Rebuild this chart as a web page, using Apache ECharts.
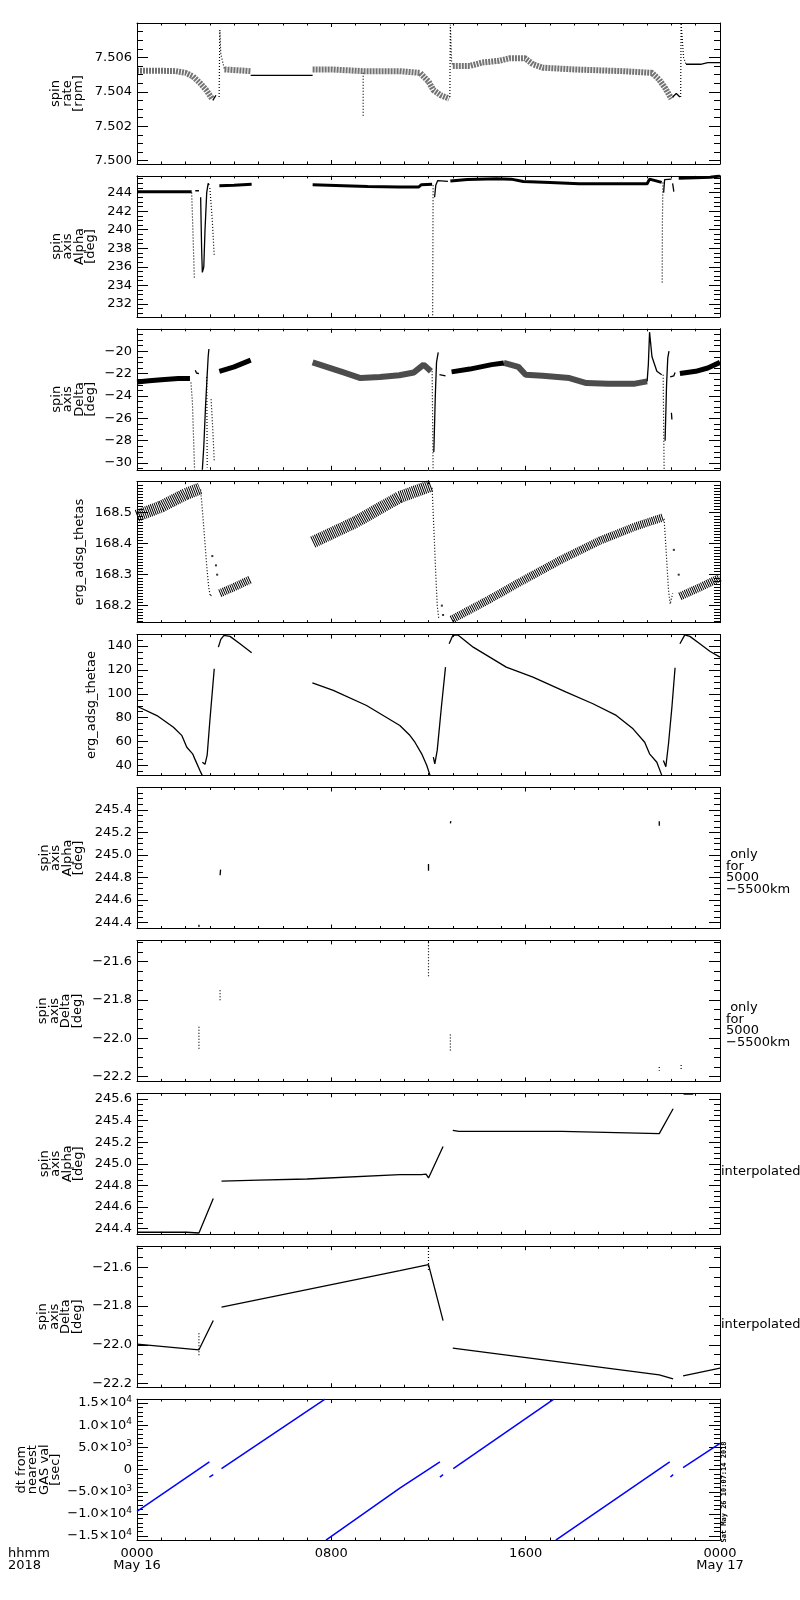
<!DOCTYPE html>
<html><head><meta charset="utf-8">
<script src="https://cdn.jsdelivr.net/npm/echarts@6/dist/echarts.min.js"></script>
<style>html,body{margin:0;padding:0;background:#fff}#c{width:800px;height:1600px}</style>
</head><body><div id="c"></div>
<script>
// ---------- axis data ----------
const hourTicks = [0, 8, 16, 24];
const hourLabels = ['0000\nMay 16', '0800', '1600', '0000\nMay 17'];

const panelTitles = ['spin\nrate\n[rpm]', 'spin\naxis\nAlpha\n[deg]', 'spin\naxis\nDelta\n[deg]', 'erg_adsg_thetas', 'erg_adsg_thetae',
  'spin\naxis\nAlpha\n[deg]', 'spin\naxis\nDelta\n[deg]', 'spin\naxis\nAlpha\n[deg]', 'spin\naxis\nDelta\n[deg]', 'dt from\nnearest\nGAS val\n[sec]'];
const panelNotes = ['', '', '', '', '', ' only\nfor\n5000\n\u22125500km', ' only\nfor\n5000\n\u22125500km', 'interpolated', 'interpolated', ''];

const yMin = [7.4998, 230.6, -30.6, 168.145, 31.6, 244.346, -22.225, 244.348, -22.219, -15900];
const yMax = [7.508, 245.8, -18, 168.6, 149.5, 245.6, -21.49, 245.653, -21.491, 15900];
const yMajor = [
  [7.500, 7.502, 7.504, 7.506],
  [232, 234, 236, 238, 240, 242, 244],
  [-30, -28, -26, -24, -22, -20],
  [168.2, 168.3, 168.4, 168.5],
  [40, 60, 80, 100, 120, 140],
  [244.4, 244.6, 244.8, 245.0, 245.2, 245.4],
  [-22.2, -22.0, -21.8, -21.6],
  [244.4, 244.6, 244.8, 245.0, 245.2, 245.4, 245.6],
  [-22.2, -22.0, -21.8, -21.6],
  [-15000, -10000, -5000, 0, 5000, 10000, 15000]
];
const yMajorLabels = [
  ['7.500', '7.502', '7.504', '7.506'],
  ['232', '234', '236', '238', '240', '242', '244'],
  ['\u221230', '\u221228', '\u221226', '\u221224', '\u221222', '\u221220'],
  ['168.2', '168.3', '168.4', '168.5'],
  ['40', '60', '80', '100', '120', '140'],
  ['244.4', '244.6', '244.8', '245.0', '245.2', '245.4'],
  ['\u221222.2', '\u221222.0', '\u221221.8', '\u221221.6'],
  ['244.4', '244.6', '244.8', '245.0', '245.2', '245.4', '245.6'],
  ['\u221222.2', '\u221222.0', '\u221221.8', '\u221221.6'],
  ['\u22121.5\u00d710{s|4}', '\u22121.0\u00d710{s|4}', '\u22125.0\u00d710{s|3}', '0', '5.0\u00d710{s|3}', '1.0\u00d710{s|4}', '1.5\u00d710{s|4}']
];
const yMinorStep = [0.0005, 0.5, 0.5, 0.01, 5, 0.05, 0.05, 0.05, 0.05, 1000];

// ---------- series data: [hour, value] ----------
// panel 1: spin rate [rpm]
const rateBand = [
  [[0, 7.50522], [1.0, 7.50522], [1.6, 7.5052], [2.0, 7.5051], [2.3, 7.5049], [2.6, 7.5045], [2.85, 7.5041], [3.09, 7.5036]],
  [[3.6, 7.5053], [4.68, 7.5052]],
  [[7.23, 7.5053], [8.0, 7.5053], [9.3, 7.5052], [10.8, 7.5052], [11.65, 7.5051], [12.0, 7.5046], [12.2, 7.5041], [12.5, 7.5038], [12.85, 7.5036]],
  [[13.0, 7.5055], [13.7, 7.5055], [14.2, 7.5057], [14.9, 7.5058], [15.35, 7.50595], [15.97, 7.50595], [16.3, 7.5056], [16.7, 7.5054], [18.0, 7.5053], [20.0, 7.5052], [21.2, 7.5051], [21.5, 7.5047], [21.75, 7.5042], [22.0, 7.5036]]
];
const rateLine = [
  [[3.12, 7.5035], [3.25, 7.5038]],
  [[4.68, 7.50495], [7.23, 7.50495]],
  [[22.05, 7.5037], [22.2, 7.5039], [22.35, 7.5037]],
  [[22.6, 7.5056], [23.2, 7.5056], [23.5, 7.5057], [24, 7.5057]]
];
const rateDots = [
  [[3.38, 7.5037], [3.41, 7.5076], [3.45, 7.5062], [3.55, 7.5056], [3.6, 7.5053]],
  [[9.31, 7.5051], [9.31, 7.5026]],
  [[12.88, 7.5037], [12.9, 7.5079], [12.95, 7.5058], [13.0, 7.5055]],
  [[22.38, 7.5037], [22.4, 7.508], [22.5, 7.506], [22.6, 7.5056]]
];
// panel 2: spin axis Alpha [deg]
const alphaBand = [
  [[0, 244.1], [1.0, 244.1], [2.25, 244.1]],
  [[3.39, 244.75], [4.0, 244.8], [4.72, 244.9]],
  [[7.23, 244.85], [8.5, 244.75], [9.5, 244.65], [10.8, 244.6], [11.6, 244.6], [11.7, 244.85], [12.15, 244.9]],
  [[12.9, 245.25], [13.6, 245.4], [14.8, 245.5], [15.4, 245.45], [15.9, 245.2], [17.0, 245.1], [18.2, 244.95], [21.0, 244.95], [21.1, 245.45], [21.6, 245.1]],
  [[22.3, 245.55], [23.0, 245.6], [23.6, 245.65], [24, 245.8]]
];
const alphaLine = [
  [[2.4, 244.2], [2.55, 244.2]],
  [[2.62, 243.5], [2.66, 238], [2.69, 235.4], [2.75, 236], [2.8, 240], [2.87, 244], [2.93, 245.0], [2.97, 244.8]],
  [[12.25, 243.5], [12.3, 244.8], [12.38, 245.3], [12.45, 245.2], [12.8, 245.2]],
  [[21.68, 244], [21.72, 245.4], [22.0, 245.45]],
  [[22.05, 245.0], [22.1, 244.1]]
];
const alphaDots = [
  [[2.25, 244.0], [2.3, 240.0], [2.36, 234.8]],
  [[3.0, 244.5], [3.1, 241], [3.18, 237.1]],
  [[12.19, 244.8], [12.17, 230.6]],
  [[21.65, 245.1], [21.63, 241], [21.62, 234.2]]
];
// panel 3: spin axis Delta [deg]
const deltaBand = [
  [[0, -22.75], [0.5, -22.65], [1.0, -22.55], [1.7, -22.45], [2.18, -22.45]],
  [[3.39, -21.8], [4.0, -21.4], [4.68, -20.8]],
  [[12.95, -21.85], [13.7, -21.6], [14.6, -21.2], [15.1, -21.05]],
  [[22.35, -22.0], [23.0, -21.8], [23.5, -21.5], [24, -21.0]]
];
const deltaNoisy = [
  [[7.23, -21.0], [7.8, -21.4], [8.5, -21.9], [9.2, -22.4], [10.0, -22.3], [10.8, -22.15], [11.4, -21.9], [11.8, -21.2], [12.1, -21.8]],
  [[15.1, -21.05], [15.7, -21.4], [16.0, -22.1], [16.7, -22.2], [17.8, -22.4], [18.5, -22.85], [19.4, -22.9], [20.5, -22.9], [21.0, -22.7]]
];
const deltaLine = [
  [[2.4, -21.7], [2.45, -21.95], [2.55, -22.0]],
  [[2.69, -30.6], [2.75, -28.5], [2.82, -25], [2.88, -22.5], [2.93, -20.5], [2.96, -19.8]],
  [[12.22, -29], [12.28, -24], [12.33, -21], [12.4, -20.1]],
  [[12.45, -22.1], [12.7, -22.2]],
  [[21.0, -22.7], [21.05, -21.2], [21.1, -18.3], [21.2, -20.5], [21.4, -21.8], [21.6, -22.1]],
  [[21.74, -28], [21.8, -23], [21.85, -20.6], [21.9, -20.0]],
  [[21.95, -22.3], [22.1, -22.2], [22.15, -21.9]],
  [[22.0, -25.5], [22.02, -26.1]]
];
const deltaDots = [
  [[2.22, -22.8], [2.28, -24.5], [2.37, -30.6]],
  [[2.87, -22.3], [2.88, -26], [2.89, -30.4]],
  [[3.05, -24.3], [3.12, -27], [3.18, -29.8]],
  [[12.15, -21.8], [12.19, -30.6]],
  [[21.66, -22.1], [21.7, -30.6]]
];
// panel 4: erg_adsg_thetas
const thetasBandWide = [
  [[0, 168.49], [1.0, 168.52], [2.0, 168.56], [2.59, 168.578]],
  [[7.24, 168.405], [9.0, 168.47], [10.8, 168.55], [12.13, 168.588]]
];
const thetasBand = [
  [[3.41, 168.24], [4.0, 168.26], [4.68, 168.285]],
  [[12.95, 168.155], [14.5, 168.22], [15.97, 168.285], [17.5, 168.35], [19.06, 168.41], [20.5, 168.455], [21.66, 168.485]],
  [[22.35, 168.23], [23.2, 168.26], [24, 168.29]]
];
const thetasLine = [
  [[2.62, 168.575], [2.7, 168.5], [2.8, 168.4], [2.88, 168.32], [2.95, 168.26], [3.02, 168.23], [3.1, 168.24]],
  [[12.15, 168.58], [12.22, 168.45], [12.3, 168.3], [12.36, 168.2], [12.42, 168.16]],
  [[21.7, 168.48], [21.78, 168.38], [21.88, 168.25], [21.95, 168.205], [22.05, 168.24]]
];
const thetasDots = [[3.1, 168.36], [3.25, 168.33], [3.3, 168.3], [12.55, 168.2], [12.6, 168.17], [22.1, 168.38], [22.3, 168.3]];
// panel 5: erg_adsg_thetae
const thetaeLine = [
  [[0, 89.6], [0.82, 81.8], [1.5, 72], [1.85, 65], [2.05, 55.3], [2.29, 49.8], [2.33, 51], [2.37, 46], [2.59, 35.8], [2.69, 31.6]],
  [[2.69, 42.8], [2.8, 41], [2.89, 49], [3.0, 77.7], [3.18, 120.9]],
  [[3.35, 139], [3.45, 145.5], [3.58, 148.8], [3.83, 148], [4.24, 141.8], [4.72, 134.3]],
  [[7.22, 109.2], [8.08, 102.8], [9.45, 90.2], [10.82, 73.5], [11.24, 65.1], [11.44, 59.5], [11.72, 49.8], [11.93, 40], [12.06, 32]],
  [[12.2, 47], [12.26, 41.4], [12.36, 52.9], [12.53, 88.8], [12.7, 122.3]],
  [[12.85, 141.8], [13.0, 148.8], [13.2, 149.3], [13.84, 139], [14.52, 130.7], [15.2, 122.3], [16.3, 114], [17.67, 101.4], [18.77, 91.7], [19.73, 81.9], [20.42, 70.7], [20.9, 59.5], [21.1, 49.8], [21.4, 42.8], [21.6, 32]],
  [[21.67, 44.2], [21.77, 39], [21.88, 58.2], [22.02, 88.8], [22.15, 121.8]],
  [[22.35, 141.8], [22.55, 149.3], [22.76, 148], [23.17, 141.8], [23.58, 135.6], [24, 130.7]]
];
// panel 6: spin axis Alpha, only for 5000-5500 km
const alphaOnly = [
  [[3.42, 244.82], [3.44, 244.87]],
  [[2.55, 244.36], [2.55, 244.38]],
  [[12.0, 244.86], [12.0, 244.92]],
  [[12.9, 245.28], [12.92, 245.30]],
  [[21.5, 245.26], [21.5, 245.30]]
];
// panel 7: spin axis Delta, only for 5000-5500 km
const deltaOnly = [
  [[2.55, -21.94], [2.55, -22.06]],
  [[3.42, -21.75], [3.42, -21.81]],
  [[12.0, -21.50], [12.0, -21.68]],
  [[12.9, -21.98], [12.9, -22.07]],
  [[21.5, -22.15], [21.5, -22.17]],
  [[22.4, -22.14], [22.4, -22.17]]
];
// panel 8: spin axis Alpha, interpolated
const alphaInterp = [
  [[0, 244.367], [2.04, 244.367], [2.1, 244.36], [2.55, 244.36], [3.14, 244.68]],
  [[3.48, 244.84], [5.0, 244.85], [7.0, 244.86], [10.82, 244.9], [11.71, 244.9], [11.9, 244.905], [12.0, 244.87], [12.6, 245.16]],
  [[13.0, 245.31], [13.25, 245.3], [17.5, 245.3], [17.55, 245.29], [21.5, 245.28], [22.07, 245.51]],
  [[22.5, 245.645], [22.9, 245.645]]
];
// panel 9: spin axis Delta, interpolated
const deltaInterp = [
  [[0, -21.997], [2.55, -22.026], [3.14, -21.875]],
  [[3.48, -21.806], [10.82, -21.617], [12.0, -21.586], [12.6, -21.875]],
  [[13.0, -22.017], [21.5, -22.155], [22.07, -22.176]],
  [[22.48, -22.16], [24, -22.121]]
];
const deltaInterpDots = [
  [[2.55, -21.94], [2.55, -22.06]],
  [[12.0, -21.50], [12.0, -21.62]]
];
// panel 10: dt from nearest GAS val [sec]
const dtLine = [
  [[0, -9400], [2.98, 1730]],
  [[2.98, -1680], [3.14, -1140]],
  [[3.48, 230], [7.74, 15900]],
  [[7.78, -15900], [10.82, -4180], [12.47, 1730]],
  [[12.47, -1680], [12.6, -1140]],
  [[13.02, 230], [17.16, 15900]],
  [[17.24, -15900], [21.93, 1730]],
  [[21.96, -1680], [22.07, -1140]],
  [[22.48, 450], [24, 5900]]
];

// ---------- layout / styles ----------
const FONT = 'DejaVu Sans';
const FS = 13;
const GRID_LEFT = 137, GRID_W = 583, GRID_H = 141, TOP0 = 23, PITCH = 152.9;
const titleX = [67.5, 73.5, 73.5, 80, 92, 61.5, 60, 61.5, 60, 38.5];
const S = {
  thin: {color: '#000', width: 1.3},
  band: {color: '#000', width: 3},
  bandWide: {color: '#000', width: 5},
  noisy: {color: '#000', width: 6, opacity: 0.7},
  rate: {color: '#000', width: 6, type: [2, 1], opacity: 0.55},
  dotted: {color: '#000', width: 1.2, type: [1, 2]},
  hatch: {color: '#000', width: 8, type: [1, 1]},
  hatchWide: {color: '#000', width: 12, type: [1, 1]},
  blue: {color: '#0000ff', width: 1.5}
};

const grids = [], xAxes = [], yAxes = [], series = [], graphics = [];
const hours = [];
for (let h = 0; h <= 24; h++) hours.push(h);

function minorValues(i) {
  const st = yMinorStep[i], out = [];
  const k0 = Math.ceil(yMin[i] / st - 1e-9), k1 = Math.floor(yMax[i] / st + 1e-9);
  for (let k = k0; k <= k1; k++) out.push(+(k * st).toFixed(6));
  return out;
}

for (let i = 0; i < 10; i++) {
  const top = TOP0 + i * PITCH;
  grids.push({left: GRID_LEFT, width: GRID_W, top: top, height: GRID_H});
  const xb = {gridIndex: i, type: 'value', min: 0, max: 24, splitLine: {show: false}, silent: true};
  const lineOn = {show: true, onZero: false, lineStyle: {color: '#000', width: 1}};
  const lineOff = {show: false, onZero: false};
  const xLabel = i === 9 ? {
    show: true, customValues: hourTicks, margin: 8, color: '#000', fontFamily: FONT, fontSize: FS, lineHeight: 12,
    formatter: v => hourLabels[hourTicks.indexOf(Math.round(v))] || ''
  } : {show: false};
  xAxes.push(Object.assign({}, xb, {position: 'bottom', axisLine: lineOn, axisTick: {inside: true, length: 4, customValues: hourTicks, lineStyle: {color: '#000'}}, axisLabel: xLabel}));
  xAxes.push(Object.assign({}, xb, {position: 'bottom', axisLine: lineOff, axisTick: {inside: true, length: 2.5, customValues: hours, lineStyle: {color: '#000'}}, axisLabel: {show: false}}));
  xAxes.push(Object.assign({}, xb, {position: 'top', axisLine: lineOn, axisTick: {inside: true, length: 4, customValues: hourTicks, lineStyle: {color: '#000'}}, axisLabel: {show: false}}));
  xAxes.push(Object.assign({}, xb, {position: 'top', axisLine: lineOff, axisTick: {inside: true, length: 2.5, customValues: hours, lineStyle: {color: '#000'}}, axisLabel: {show: false}}));

  const yb = {gridIndex: i, type: 'value', min: yMin[i], max: yMax[i], splitLine: {show: false}, silent: true};
  const majors = yMajor[i], labs = yMajorLabels[i], st = yMinorStep[i];
  const mins = minorValues(i);
  yAxes.push(Object.assign({}, yb, {position: 'left', axisLine: lineOn,
    axisTick: {inside: true, length: 11, customValues: majors, lineStyle: {color: '#000'}},
    axisLabel: {show: true, customValues: majors, margin: 5, color: '#000', fontFamily: FONT, fontSize: FS,
      formatter: v => { const k = majors.findIndex(m => Math.abs(m - v) < st * 0.01); return k >= 0 ? labs[k] : ''; },
      rich: {s: {fontFamily: FONT, fontSize: 9, color: '#000', verticalAlign: 'top', padding: [0, 0, 7, 0]}}}}));
  yAxes.push(Object.assign({}, yb, {position: 'left', axisLine: lineOff, axisTick: {inside: true, length: 6, customValues: mins, lineStyle: {color: '#000'}}, axisLabel: {show: false}}));
  yAxes.push(Object.assign({}, yb, {position: 'right', axisLine: lineOn, axisTick: {inside: true, length: 11, customValues: majors, lineStyle: {color: '#000'}}, axisLabel: {show: false}}));
  yAxes.push(Object.assign({}, yb, {position: 'right', axisLine: lineOff, axisTick: {inside: true, length: 6, customValues: mins, lineStyle: {color: '#000'}}, axisLabel: {show: false}}));

  graphics.push({type: 'text', x: titleX[i], y: top + GRID_H / 2, rotation: Math.PI / 2, silent: true,
    style: {text: panelTitles[i], fill: '#000', font: FS + 'px ' + FONT, lineHeight: 11.5,
      align: 'center', verticalAlign: 'middle', textAlign: 'center', textVerticalAlign: 'middle'}});
  if (panelNotes[i]) {
    const interp = panelNotes[i] === 'interpolated';
    graphics.push({type: 'text', x: interp ? 721 : 726, y: top + (interp ? 78.5 : 84.5), silent: true,
      style: {text: panelNotes[i], fill: '#000', font: FS + 'px ' + FONT, lineHeight: 11.5,
        align: 'left', verticalAlign: 'middle', textAlign: 'left', textVerticalAlign: 'middle'}});
  }
}

function addLines(p, segs, style) {
  segs.forEach(seg => series.push({type: 'line', xAxisIndex: p * 4, yAxisIndex: p * 4, data: seg, symbol: 'none',
    lineStyle: style, silent: true, animation: false, z: 3}));
}
function addDots(p, pts) {
  series.push({type: 'scatter', xAxisIndex: p * 4, yAxisIndex: p * 4, data: pts, symbol: 'rect', symbolSize: 2,
    itemStyle: {color: '#000'}, silent: true, animation: false, z: 3});
}

addLines(0, rateBand, S.rate); addLines(0, rateLine, S.thin); addLines(0, rateDots, S.dotted);
addLines(1, alphaBand, S.band); addLines(1, alphaLine, S.thin); addLines(1, alphaDots, S.dotted);
addLines(2, deltaBand, S.bandWide); addLines(2, deltaNoisy, S.noisy); addLines(2, deltaLine, S.thin); addLines(2, deltaDots, S.dotted);
addLines(3, thetasBandWide, S.hatchWide); addLines(3, thetasBand, S.hatch); addLines(3, thetasLine, S.dotted); addDots(3, thetasDots);
addLines(4, thetaeLine, S.thin);
addLines(5, alphaOnly, S.thin);
addLines(6, deltaOnly, S.dotted);
addLines(7, alphaInterp, S.thin);
addLines(8, deltaInterp, S.thin); addLines(8, deltaInterpDots, S.dotted);
addLines(9, dtLine, S.blue);

graphics.push({type: 'text', x: 8, y: 1548, silent: true,
  style: {text: 'hhmm\n2018', fill: '#000', font: FS + 'px ' + FONT, lineHeight: 12, align: 'left', verticalAlign: 'top', textAlign: 'left', textVerticalAlign: 'top'}});
graphics.push({type: 'text', x: 724, y: 1492, rotation: Math.PI / 2, silent: true,
  style: {text: 'Sat May 26 10:07:14 2018', fill: '#000', font: 'bold 7px DejaVu Sans Mono', align: 'center', verticalAlign: 'middle', textAlign: 'center', textVerticalAlign: 'middle'}});

const chart = echarts.init(document.getElementById('c'), null, {renderer: 'canvas'});
chart.setOption({
  animation: false,
  backgroundColor: '#fff',
  grid: grids, xAxis: xAxes, yAxis: yAxes, series: series,
  graphic: {elements: graphics}
});
</script>
</body></html>
